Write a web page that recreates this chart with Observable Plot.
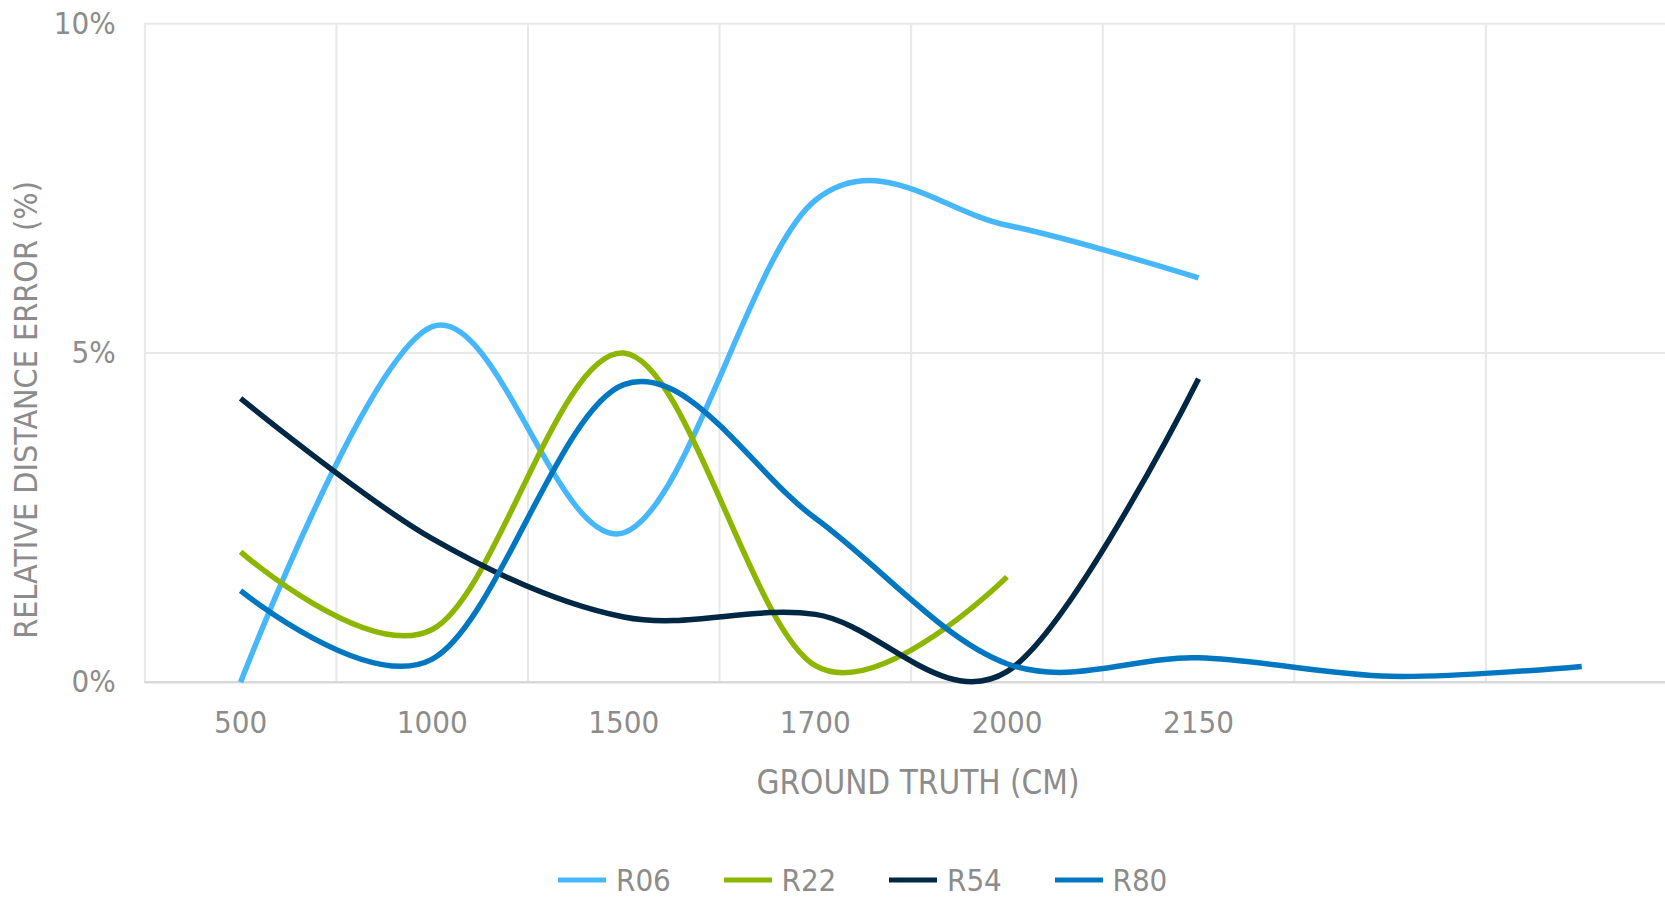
<!DOCTYPE html>
<html>
<head>
<meta charset="utf-8">
<script src="https://cdn.jsdelivr.net/npm/d3@7"></script>
<script src="https://cdn.jsdelivr.net/npm/@observablehq/plot@0.6"></script>
<style>
  html, body { margin: 0; padding: 0; background: #ffffff; overflow: hidden; }
  #wrap { position: relative; width: 1665px; height: 897px; overflow: hidden; background: #fff;
    font-family: "Liberation Sans Narrow", "DejaVu Sans Condensed", "Arial Narrow", sans-serif; color: #8c8c8c; }
  #chart { position: absolute; left: 0; top: 0; width: 1677px; }
  #chart svg { max-width: none !important; }
  .ytitle { position: absolute; left: 26px; top: 410px; transform: translate(-50%, -50%) rotate(-90deg);
    font-size: 32px; white-space: nowrap; line-height: 1; }
  .xtitle { position: absolute; left: 918px; top: 782px; transform: translate(-50%, -50%);
    font-size: 33px; white-space: nowrap; line-height: 1; }
  #legend { position: absolute; left: 558px; top: 880px; transform: translateY(-50%); display: flex; align-items: center; }
  .item { display: flex; align-items: center; width: 165.5px; }
  .sw { width: 48px; height: 5.5px; margin-right: 10px; }
  .lab { font-size: 31px; line-height: 1; }
</style>
</head>
<body>
<div id="wrap">
  <div id="chart"></div>
  <div class="ytitle">RELATIVE DISTANCE ERROR (%)</div>
  <div class="xtitle">GROUND TRUTH (CM)</div>
  <div id="legend"></div>
</div>
<script>
// ---- data ----
const tickLabels = ["500", "1000", "1500", "1700", "2000", "2150", "", ""];
const seriesNames = ["R06", "R22", "R54", "R80"];
const seriesColors = ["#47b7fc", "#8db600", "#002845", "#0077c0"];
const r06 = [0.00, 5.40, 2.27, 7.32, 6.94, 6.14];
const r22 = [1.98, 0.80, 5.00, 0.25, 1.60];
const r54 = [4.31, 2.18, 0.99, 1.03, 0.16, 4.61];
const r80 = [1.39, 0.35, 4.52, 2.49, 0.28, 0.37, 0.09, 0.24];
const yTicks = [0, 5, 10];

const seriesValues = [r06, r22, r54, r80];
const idx = tickLabels.map((_, i) => i);
const bounds = tickLabels.map((_, i) => i - 0.5).concat([tickLabels.length - 0.5]);

const W = 1677, H = 760;
const marginLeft = 144.3, marginTop = 23.3, marginBottom = H - 681.7;

const lines = seriesValues.map((vals, s) =>
  Plot.line(vals.map((v, i) => ({i, v})), {
    x: "i", y: "v", stroke: seriesColors[s], strokeWidth: 5.5,
    curve: "cardinal", strokeLinecap: "butt", strokeLinejoin: "round"
  })
);

const chart = Plot.plot({
  width: W, height: H,
  marginLeft, marginRight: 0, marginTop, marginBottom,
  style: {
    fontFamily: '"Liberation Sans Narrow", "DejaVu Sans Condensed", "Arial Narrow", sans-serif',
    fontSize: "31px", color: "#8c8c8c", background: "transparent", overflow: "visible", maxWidth: "none"
  },
  x: {type: "linear", domain: [-0.5, tickLabels.length - 0.5]},
  y: {domain: [0, 10]},
  marks: [
    Plot.ruleX(bounds, {y1: 0, y2: 10, stroke: "#e8e8e8", strokeWidth: 2}),
    Plot.ruleY(yTicks.filter(d => d > 0), {stroke: "#e8e8e8", strokeWidth: 2}),
    Plot.ruleY([0], {stroke: "#d9d9d9", strokeWidth: 2.5}),
    Plot.axisY({ticks: yTicks, tickSize: 0, tickPadding: 29, tickFormat: d => d + "%", label: null, fill: "#8c8c8c"}),
    Plot.axisX({ticks: idx, tickSize: 0, tickPadding: 29, tickFormat: i => tickLabels[i], label: null, fill: "#8c8c8c"}),
    ...lines
  ]
});
chart.style.maxWidth = "none";
document.getElementById("chart").appendChild(chart);

// legend
const legend = document.getElementById("legend");
seriesNames.forEach((name, s) => {
  const item = document.createElement("div");
  item.className = "item";
  const sw = document.createElement("div");
  sw.className = "sw";
  sw.style.background = seriesColors[s];
  const lab = document.createElement("span");
  lab.className = "lab";
  lab.textContent = name;
  item.appendChild(sw);
  item.appendChild(lab);
  legend.appendChild(item);
});
</script>
</body>
</html>
